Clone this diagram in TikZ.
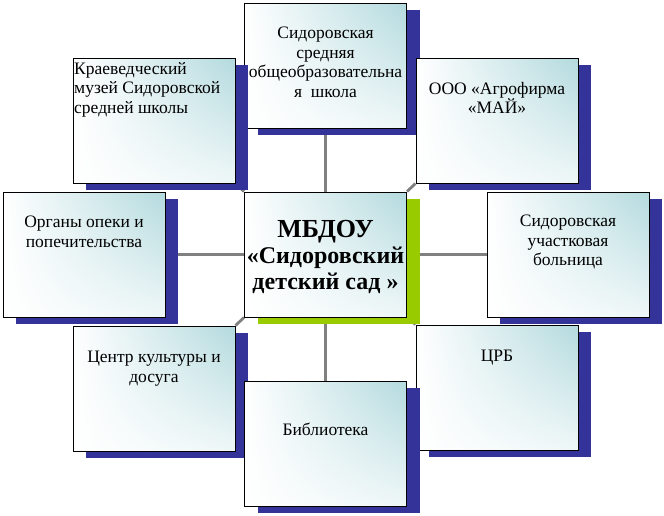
\documentclass[tikz,border=0pt]{standalone}
\usepackage{fontspec}
\setmainfont{Liberation Serif}
\usetikzlibrary{shadows,shadings}
\definecolor{tealc}{HTML}{B3DADE}
\definecolor{shblue}{HTML}{333399}
\definecolor{shgreen}{HTML}{99CC00}
\definecolor{linkgray}{HTML}{808080}
\pgfdeclarelayer{bg}
\pgfsetlayers{bg,main}
\tikzset{
  cardbase/.style={draw=black, line width=1pt, minimum width=162pt, minimum height=125pt,
    inner sep=0pt, shade, upper left=white, upper right=tealc, lower left=white,
    lower right=tealc!22!white},
  cardbox/.style={cardbase, drop shadow={shadow xshift=13pt, shadow yshift=-7pt, fill=shblue, opacity=1}},
  centerbox/.style={cardbase, drop shadow={shadow xshift=13pt, shadow yshift=-7pt, fill=shgreen, opacity=1}},
  txt/.style={font=\fontsize{17.5}{19.5}\selectfont, align=center, anchor=north, inner sep=0pt},
  linkline/.style={draw=linkgray, line width=2.8pt},
}
\begin{document}
\begin{tikzpicture}[x=1pt,y=-1pt]
\useasboundingbox (0,0) rectangle (664,515);
% boxes
\node[centerbox] (center) at (325.5,254.5) {};
\node[cardbox] (school) at (325.5,65.5) {};
\node[cardbox] (museum) at (154,120.5) {};
\node[cardbox] (agro) at (497,120.5) {};
\node[cardbox] (opeka) at (84,254.5) {};
\node[cardbox] (hosp) at (568,254.5) {};
\node[cardbox] (culture) at (154,388.5) {};
\node[cardbox] (crb) at (497,387.5) {};
\node[cardbox] (lib) at (325.5,443.5) {};
% texts
\node[txt] (t1) at (325.5,27) {Сидоровская\\средняя\\общеобразовательна\\я\ \ школа};
\node[txt, align=left, anchor=north west] (t2) at (74,62) {Краеведческий\\музей Сидоровской\\средней школы};
\node[txt] (t3) at (497,82) {ООО «Агрофирма\\«МАЙ»};
\node[txt] (t4) at (84,216) {Органы опеки и\\попечительства};
\node[txt, font=\bfseries\fontsize{24}{26}\selectfont] (t5) at (325.5,220) {{\fontsize{26}{26}\selectfont МБДОУ}\\«Сидоровский\\детский сад »};
\node[txt] (t6) at (568,215) {Сидоровская\\участковая\\больница};
\node[txt] (t7) at (154,351) {Центр культуры и\\досуга};
\node[txt] (t8) at (497,350) {ЦРБ};
\node[txt] (t9) at (325.5,423) {Библиотека};
% connectors
\begin{pgfonlayer}{bg}
\draw[linkline] (center.north) -- (school.south);
\draw[linkline] (center.south) -- (lib.north);
\draw[linkline] (center.west) -- (opeka.east);
\draw[linkline] (center.east) -- (hosp.west);
\draw[linkline] (center.north east) -- (agro.south west);
\draw[linkline] (center.north west) -- (museum.south east);
\draw[linkline] (center.south west) -- (culture.north east);
\draw[linkline] (center.south east) -- (crb.north west);
\end{pgfonlayer}
\end{tikzpicture}
\end{document}
